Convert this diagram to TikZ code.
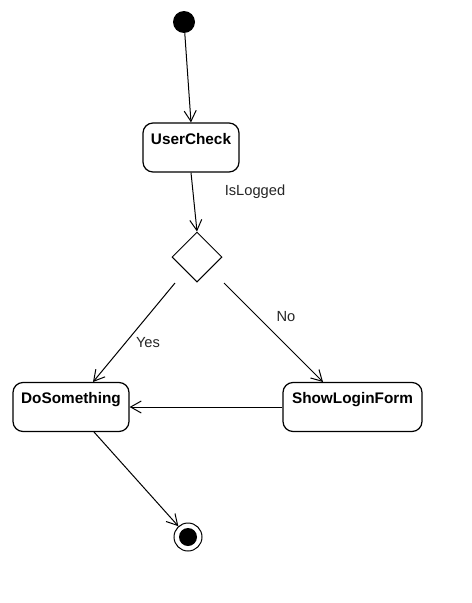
\documentclass[tikz,border=0pt]{standalone}
\usepackage{fontspec}
\setmainfont{Liberation Sans}
\usetikzlibrary{arrows.meta,shapes.geometric}
\begin{document}
\begin{tikzpicture}[x=0.75pt,y=-0.75pt,
  statebox/.style={draw,line width=0.9pt,rounded corners=7.5pt,inner sep=0pt,
    font=\fontsize{11.5}{13}\selectfont\bfseries,
    text height=15.75pt,text depth=21pt},
  flow/.style={draw,line width=0.75pt,-{Straight Barb[length=8pt,width=9pt,line width=0.75pt]}},
  lbl/.style={font=\fontsize{11}{13}\selectfont,text=black!85,inner sep=0pt}]
\useasboundingbox[fill=white] (0,0) rectangle (471,603);
\node[circle,fill=black,minimum size=16.5pt,inner sep=0pt] (init) at (184,22) {};
\node[statebox,minimum width=72pt] (user) at (191,147.5) {UserCheck};
\node[diamond,draw,line width=0.75pt,minimum width=37.5pt,minimum height=37.5pt,inner sep=0pt,aspect=1] (dec) at (197,257) {};
\node[statebox,minimum width=87pt] (dosome) at (71,407) {DoSomething};
\node[statebox,minimum width=104.25pt] (show) at (352.5,407) {ShowLoginForm};
\node[circle,draw,line width=0.75pt,minimum size=21pt,inner sep=0pt] (final) at (188,537) {};
\node[circle,fill=black,minimum size=13.5pt,inner sep=0pt] (finalin) at (final.center) {};
\coordinate (ys) at (175,283);
\coordinate (ye) at (93,382);
\coordinate (ns) at (224,283);
\coordinate (ne) at (323,382);
\coordinate (ds) at (94,432);
\draw[flow] (init) -- (user.north);
\draw[flow] (user.south) -- (dec.north);
\draw[flow] (ys) -- (ye);
\draw[flow] (ns) -- (ne);
\draw[flow] (show.west) -- (dosome.east);
\draw[flow] (ds) -- (final);
\node[lbl] (lislog) at (255,192) {IsLogged};
\node[lbl] (lyes) at (148,343) {Yes};
\node[lbl] (lno) at (286,317) {No};
\end{tikzpicture}
\end{document}
